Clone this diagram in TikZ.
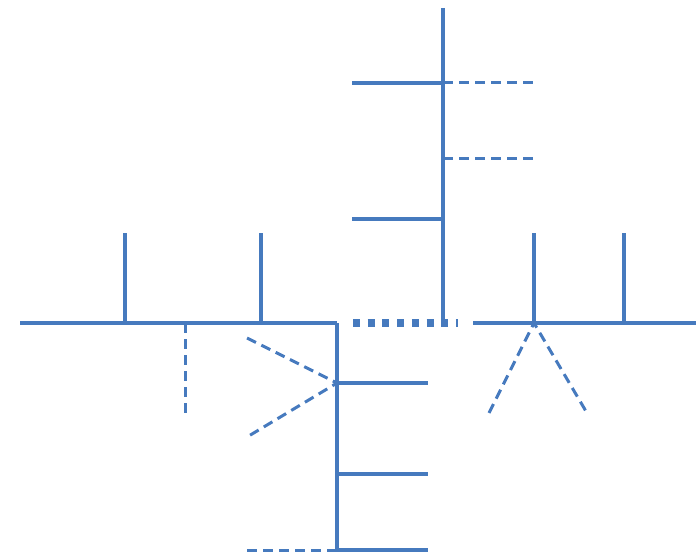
\documentclass[tikz,border=0pt]{standalone}
\usepackage{tikz}
\definecolor{bleu}{RGB}{70,122,190}
\tikzset{
  trait/.style={color=bleu, line width=3.6pt},
  tiret/.style={color=bleu, line width=3pt, dash pattern=on 10pt off 6pt},
  pointille/.style={color=bleu, line width=7pt, dash pattern=on 7pt off 7.7pt}
}
\begin{document}
\begin{tikzpicture}[line join=round,x=1pt,y=-1pt]
	\useasboundingbox (0,0) rectangle (696,553);
	% sommets
	\coordinate (G) at (20,323);
	\coordinate (G1) at (125,323);
	\coordinate (G1h) at (125,233);
	\coordinate (G2) at (185,323);
	\coordinate (G2b) at (185,413);
	\coordinate (G3) at (261,323);
	\coordinate (G3h) at (261,233);
	\coordinate (C) at (337,323);
	\coordinate (C1) at (337,383);
	\coordinate (C2) at (337,474);
	\coordinate (C3) at (337,550);
	\coordinate (C1d) at (428,383);
	\coordinate (C2d) at (428,474);
	\coordinate (C3d) at (428,550);
	\coordinate (C3g) at (247,550);
	\coordinate (Vh) at (247,338);
	\coordinate (Vb) at (247,437);
	\coordinate (P0) at (353,323);
	\coordinate (P1) at (458,323);
	\coordinate (H) at (443,8);
	\coordinate (H0) at (443,323);
	\coordinate (H1) at (443,83);
	\coordinate (H2) at (443,159);
	\coordinate (H3) at (443,219);
	\coordinate (H1g) at (352,83);
	\coordinate (H3g) at (352,219);
	\coordinate (H1d) at (533,83);
	\coordinate (H2d) at (533,159);
	\coordinate (D) at (473,323);
	\coordinate (D1) at (534,323);
	\coordinate (D1h) at (534,233);
	\coordinate (D2) at (624,323);
	\coordinate (D2h) at (624,233);
	\coordinate (DF) at (696,323);
	\coordinate (Lg) at (489,413);
	\coordinate (Ld) at (587,413);
	% Branche gauche
	\draw[trait] (G)--(C);
	\draw[trait] (G1)--(G1h);
	\draw[trait] (G3)--(G3h);
	\draw[tiret] (G2)--(G2b);
	% Branche basse
	\draw[trait] (C)--(C3);
	\draw[trait] (C1)--(C1d);
	\draw[trait] (C2)--(C2d);
	\draw[trait] (C3)--(C3d);
	\draw[tiret] (C3g)--(C3);
	\draw[tiret] (Vh)--(C1)--(Vb);
	% Liaison centrale
	\draw[pointille] (P0)--(P1);
	% Branche haute
	\draw[trait] (H)--(H0);
	\draw[trait] (H1g)--(H1);
	\draw[trait] (H3g)--(H3);
	\draw[tiret] (H1)--(H1d);
	\draw[tiret] (H2)--(H2d);
	% Branche droite
	\draw[trait] (D)--(DF);
	\draw[trait] (D1)--(D1h);
	\draw[trait] (D2)--(D2h);
	\draw[tiret] (Lg)--(D1)--(Ld);
\end{tikzpicture}
\end{document}
